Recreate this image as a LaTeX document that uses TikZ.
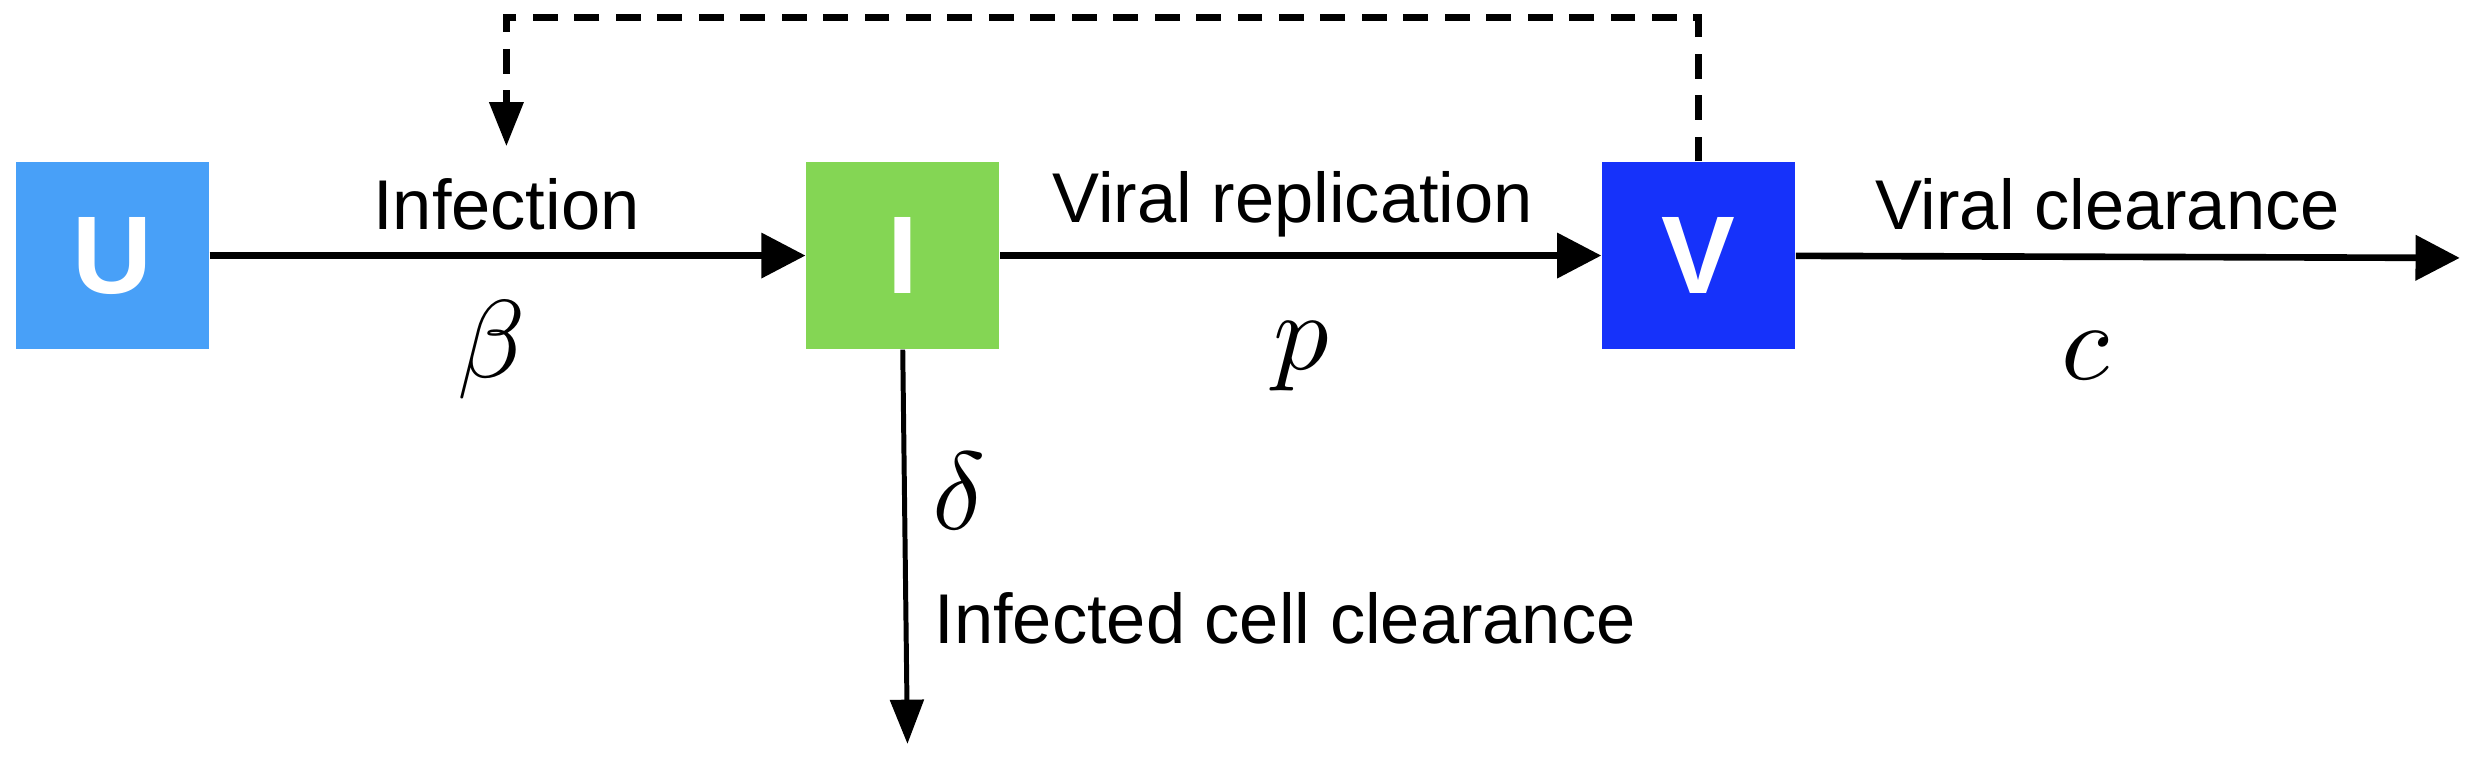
\documentclass[tikz,border=0pt]{standalone}
\usepackage{fontspec}
\usepackage{unicode-math}
\setmainfont{Liberation Sans}
\setmathfont{Latin Modern Math}
\usetikzlibrary{arrows.meta}
\definecolor{ucol}{RGB}{72,160,248}
\definecolor{icol}{RGB}{132,214,84}
\definecolor{vcol}{RGB}{22,50,250}
\tikzset{
  box/.style={minimum width=2.46cm, minimum height=2.38cm, inner sep=0pt,
    text=white, font=\fontsize{40}{44}\selectfont\bfseries},
  flow/.style={line width=2.4pt, -{Triangle[length=16pt,width=16pt]}},
  lab/.style={font=\fontsize{25.5}{29}\selectfont},
  rate/.style={font=\fontsize{40}{44}\selectfont}
}
\begin{document}
\begin{tikzpicture}[x=0.02cm, y=-0.02cm]
\useasboundingbox (0,0) rectangle (1568,482);
\node[box, fill=ucol](U) at (71.5,162.5) {U};
\node[box, fill=icol](I) at (574,162.5) {I};
\node[box, fill=vcol](V) at (1080,162.5) {V};
\coordinate (out) at (1564,164);
\coordinate (down) at (577,473);
\coordinate (fbL) at (322,11);
\coordinate (fbR) at (1080,11);
\coordinate (fbT) at (322,93);

\draw[flow] (U) -- (I);
\draw[flow] (I) -- (V);
\draw[flow] (V) -- (out);
\draw[line width=1.8pt, -{Triangle[length=16pt,width=12pt]}] (I.south) -- (down);
\draw[line width=2.4pt, dash pattern=on 9pt off 6pt, -{Triangle[length=16pt,width=12pt]}]
  (V.north) -- (fbR) -- (fbL) -- (fbT);

\node[lab](infl) at (322,130) {Infection};
\node[lab](repl) at (822,130) {Viral replication};
\node[lab](vcl) at (1340,130) {Viral clearance};
\node[lab, anchor=west](icl) at (588,393) {Infected cell clearance};
\node[rate](beta) at (312,222) {$\beta$};
\node[rate](prate) at (828,226) {$p$};
\node[rate](crate) at (1327,226) {$c$};
\node[rate](delta) at (610,312) {$\delta$};
\end{tikzpicture}
\end{document}
